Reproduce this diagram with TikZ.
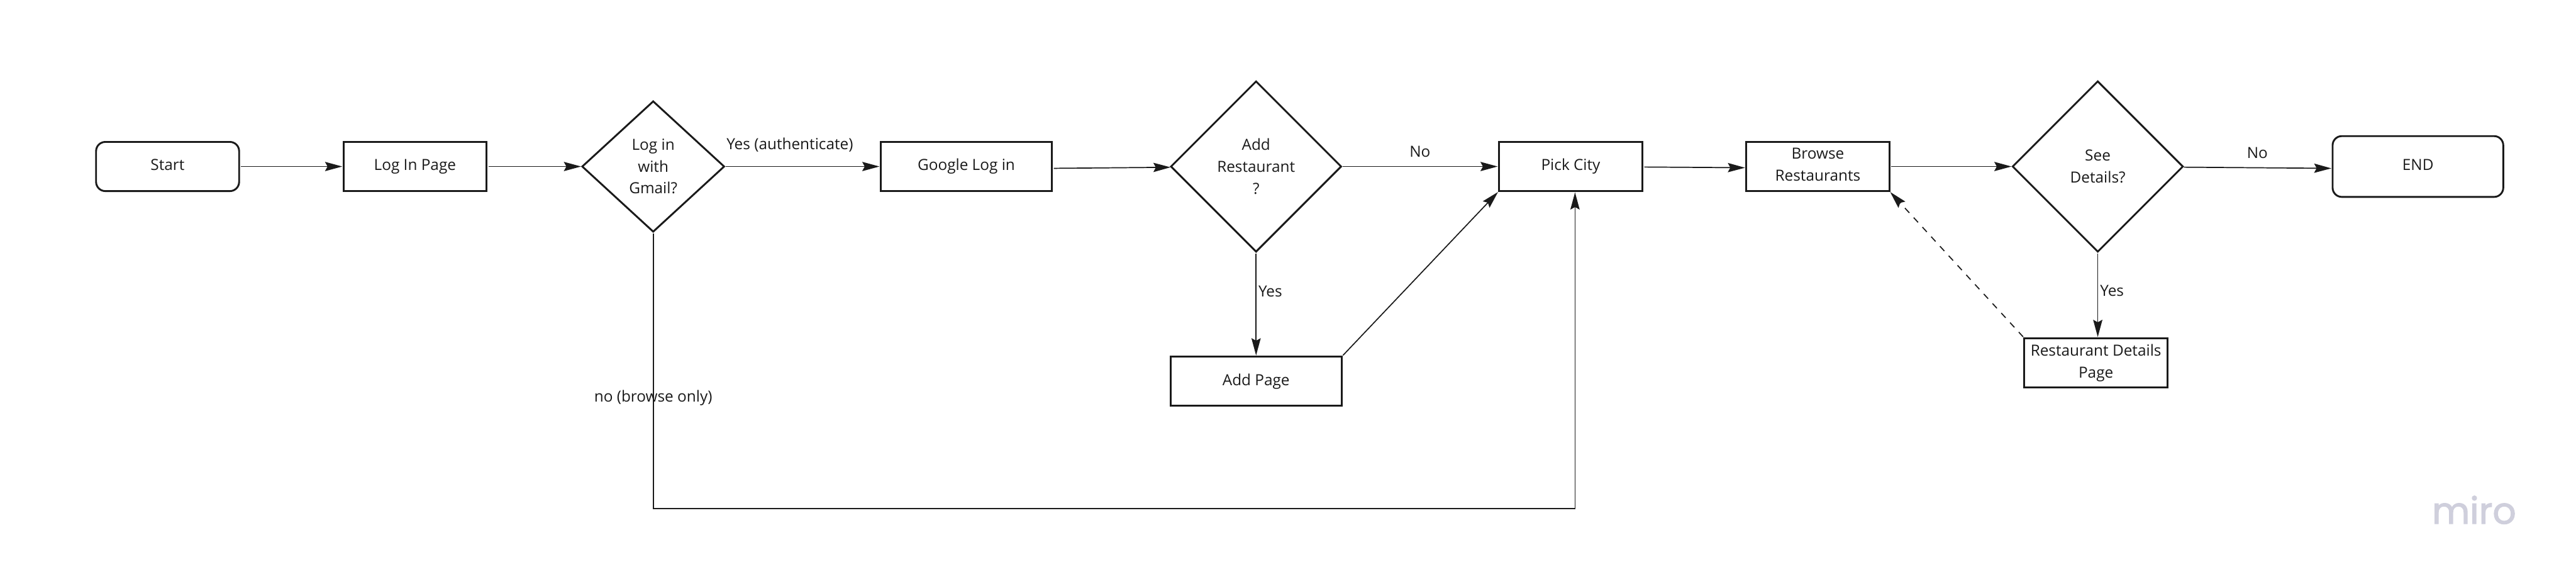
\documentclass[tikz,border=0pt]{standalone}
\usepackage{fontspec}
\setmainfont{Open Sans}
\newfontfamily\logofont[FakeBold=2]{Poppins}
\usepackage{xcolor}
\definecolor{ink}{RGB}{26,26,26}
\definecolor{logo}{RGB}{207,207,220}
\usepackage{tikz}
\usetikzlibrary{arrows.meta,positioning,shapes.geometric}
\tikzset{
  pagebox/.style={draw=ink,line width=.85pt,text=ink,font=\fontsize{7.1}{10.1}\selectfont,%
    align=center,inner sep=0pt,outer sep=0pt,text depth=.06cm,minimum width=2.33cm,minimum height=.8cm},
  termbox/.style={pagebox,rounded corners=.15cm},
  gate/.style={draw=ink,diamond,aspect=1,line width=.85pt,text=ink,%
    font=\fontsize{7.1}{10.1}\selectfont,align=center,inner sep=0pt,outer sep=0pt},
  flow/.style={-{Stealth[length=2.8mm,width=1.5mm,inset=.4mm]},line width=.5pt,draw=ink,%
    shorten <=.03cm,shorten >=.02cm},
  lbl/.style={text=ink,font=\fontsize{7.1}{10.1}\selectfont,inner sep=0pt},
}
\begin{document}
\begin{tikzpicture}
\useasboundingbox (0,0) rectangle (41.96,-9.53);
\node[termbox] (start) at (2.73,-2.71) {Start};
\node[pagebox,right=1.70cm of start] (login) {Log In Page};
\node[gate,right=1.56cm of login,minimum width=2.31cm,minimum height=2.12cm] (gmail) {Log in\\with\\Gmail?};
\node[pagebox,right=2.55cm of gmail,minimum width=2.79cm] (google) {Google Log in};
\node[gate,right=1.94cm of google,minimum width=2.77cm,minimum height=2.77cm] (addq) {Add\\Restaurant\\?};
\node[pagebox,right=2.57cm of addq,minimum width=2.34cm] (city) {Pick City};
\node[pagebox,right=1.69cm of city] (browse) {Browse\\Restaurants};
\node[gate,right=2.01cm of browse,minimum width=2.77cm,minimum height=2.77cm] (seeq) {See\\Details?};
\node[termbox,right=2.44cm of seeq,minimum width=2.78cm,minimum height=.99cm] (finish) {END};
\node[pagebox,below=1.71cm of addq,minimum width=2.79cm] (addpage) {Add Page};
\node[pagebox,below=1.41cm of seeq,xshift=-.03cm] (details) {Restaurant Details\\Page};
\node[font=\logofont\fontsize{17}{20}\selectfont,text=logo,inner sep=0pt] (miro) at (40.3,-8.3) {miro};
\draw[flow] (start)--(login);
\draw[flow] (login)--(gmail);
\draw[flow] (gmail)--(google) node[lbl,pos=.42,above=.23cm]{Yes (authenticate)};
\draw[flow] ([yshift=-.03cm]google.east)--(addq);
\draw[flow] (addq)--(city) node[lbl,midway,above=.14cm]{No};
\draw[flow] (city)--([yshift=-.02cm]browse.west);
\draw[flow] (browse)--(seeq);
\draw[flow] (seeq)--([yshift=-.03cm]finish.west) node[lbl,midway,above=.14cm]{No};
\draw[flow] (addq)--(addpage) node[lbl,pos=.38,right=.03cm]{Yes};
\draw[flow] (seeq.south)--([xshift=.03cm]details.north) node[lbl,pos=.45,right=.03cm]{Yes};
\draw[flow] (addpage.north east)--(city.south west);
\draw[flow,dashed] (details.north west)--(browse.south east);
\draw[flow] (gmail.south) -- ++(0,-4.51) node[lbl,pos=.6]{no (browse only)} -| ([xshift=.07cm]city.south);
\end{tikzpicture}
\end{document}
